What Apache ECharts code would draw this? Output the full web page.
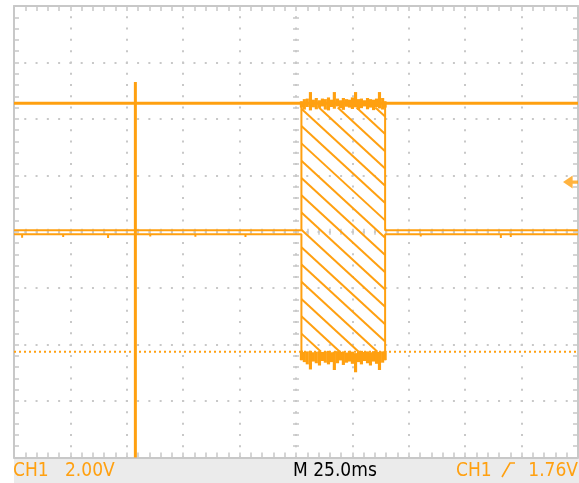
<!DOCTYPE html>
<html>
<head>
<meta charset="utf-8">
<script src="https://cdn.jsdelivr.net/npm/echarts@6/dist/echarts.min.js"></script>
<style>
  html, body { margin: 0; padding: 0; background: #ffffff; }
  #scope { width: 579px; height: 483px; }
</style>
</head>
<body>
<div id="scope"></div>
<script>
// ---- acquisition settings ----
const timeDivMs = 25.0;       // horizontal scale (ms / div)
const voltDiv = 2.00;         // CH1 vertical scale (V / div)
const triggerLevelV = 1.76;   // CH1 rising-edge trigger level
const hDivs = 10;
const vDivs = 8;

// ---- cursors and reference level ----
const cursorTimeMs = -71.2;   // vertical time cursor
const cursorTopV = 5.31;      // upper end of the time cursor
const cursorLevelV = 4.55;    // horizontal voltage cursor
const refLevelV = -4.25;      // dotted reference level

// ---- CH1 trace: idle level (min/max envelope) ----
const baseUpperV = 0.05;
const baseLowerV = -0.09;
// short negative glitches on the idle level [time ms, V]
const baselineDips = [[-121.4, -0.21], [-103.2, -0.19], [-83.3, -0.22], [-64.6, -0.17],
                      [-44.6, -0.18], [-22.4, -0.19], [55.3, -0.17], [90.8, -0.22], [95.2, -0.19]];

// ---- CH1 trace: burst window ----
const pulseTimes = [2.4, 3.7, 5.0, 6.4, 7.7, 9.0, 10.4, 11.7, 13.0, 14.4, 15.7, 17.0, 18.4, 19.7,
                    21.0, 22.4, 23.7, 25.0, 26.4, 27.7, 29.0, 30.4, 31.7, 33.0, 34.4, 35.7, 37.0, 38.4, 39.5];
const highMax = [4.62, 4.70, 4.72, 4.95, 4.68, 4.74, 4.66, 4.72, 4.70, 4.76, 4.68, 4.95, 4.72, 4.66,
                 4.74, 4.70, 4.68, 4.76, 4.95, 4.70, 4.72, 4.66, 4.74, 4.70, 4.68, 4.72, 4.95, 4.74, 4.62];
const highMin = [4.40, 4.33, 4.42, 4.30, 4.41, 4.34, 4.39, 4.44, 4.33, 4.30, 4.42, 4.36, 4.44, 4.38,
                 4.32, 4.43, 4.40, 4.35, 4.41, 4.32, 4.38, 4.44, 4.34, 4.40, 4.31, 4.42, 4.37, 4.33, 4.40];
const lowMax = [-4.22, -4.26, -4.24, -4.22, -4.27, -4.25, -4.23, -4.26, -4.24, -4.22, -4.27, -4.25, -4.23, -4.26,
                -4.24, -4.28, -4.22, -4.25, -4.30, -4.24, -4.22, -4.26, -4.24, -4.27, -4.23, -4.25, -4.26, -4.24, -4.22];
const lowMin = [-4.55, -4.62, -4.70, -4.88, -4.60, -4.66, -4.74, -4.58, -4.64, -4.70, -4.62, -4.90, -4.66, -4.56,
                -4.72, -4.64, -4.60, -4.68, -4.98, -4.62, -4.70, -4.58, -4.66, -4.74, -4.60, -4.68, -4.90, -4.64, -4.55];
// fast-edge region drawn as hatching [start ms, end ms, top V, bottom V]
const hatchBounds = [2.4, 39.5, 4.40, -4.25];

// ---- styles ----
const ORANGE = '#ffa010';
const GRID_GRAY = '#c8c8c8';
const FONT = '19px "DejaVu Sans Condensed", "DejaVu Sans", sans-serif';
const bandColumnMs = 1.4;

const xMin = -hDivs / 2 * timeDivMs, xMax = hDivs / 2 * timeDivMs;
const yMin = -vDivs / 2 * voltDiv, yMax = vDivs / 2 * voltDiv;

const gridRect = { left: 14, top: 6, width: 564, height: 451.5 };

function scaleAxis(base, opts) {
  return Object.assign({
    type: 'value', min: base.min, max: base.max, interval: base.interval,
    axisLine: { show: true, onZero: false, lineStyle: { color: GRID_GRAY, width: 2 } },
    axisTick: { show: true, inside: true, length: 5, lineStyle: { color: GRID_GRAY, width: 1.5 } },
    minorTick: { show: true, splitNumber: 5, length: 5, lineStyle: { color: GRID_GRAY, width: 1.5 } },
    axisLabel: { show: false },
    splitLine: { show: false },
    silent: true
  }, opts);
}
function centerAxis(base, opts) {
  return scaleAxis(base, Object.assign({
    axisLine: { show: false, onZero: false },
    axisTick: { show: true, inside: true, length: 3, lineStyle: { color: GRID_GRAY, width: 1.5 } },
    minorTick: { show: true, splitNumber: 5, length: 3, lineStyle: { color: GRID_GRAY, width: 1.5 } }
  }, opts));
}

const xBase = { min: xMin, max: xMax, interval: timeDivMs };
const yBase = { min: yMin, max: yMax, interval: voltDiv };
const dotPeriodX = gridRect.width / (hDivs * 5);
const dotPeriodY = gridRect.height / (vDivs * 5);

function pulseStartOf() { return pulseTimes[0]; }
function pulseEndOf() { return pulseTimes[pulseTimes.length - 1]; }
const last = pulseTimes.length - 1;

// idle level plus the rising / falling edges; the burst plateaus are drawn as bands
const upperTrace = [[xMin, baseUpperV], [pulseStartOf(), baseUpperV], [pulseStartOf(), highMax[0]],
                    [pulseStartOf(), '-'],
                    [pulseEndOf(), highMax[last]], [pulseEndOf(), baseUpperV], [xMax, baseUpperV]];

const lowerTrace = [[xMin, baseLowerV]];
baselineDips.filter(d => d[0] < pulseStartOf()).forEach(d => lowerTrace.push([d[0], baseLowerV], [d[0], d[1]], [d[0], baseLowerV]));
lowerTrace.push([pulseStartOf(), baseLowerV], [pulseStartOf(), lowMin[0]], [pulseStartOf(), '-'],
                [pulseEndOf(), lowMin[last]], [pulseEndOf(), baseLowerV]);
baselineDips.filter(d => d[0] > pulseEndOf()).forEach(d => lowerTrace.push([d[0], baseLowerV], [d[0], d[1]], [d[0], baseLowerV]));
lowerTrace.push([xMax, baseLowerV]);

const highBand = pulseTimes.map((t, i) => [t, highMin[i], highMax[i]]);
const lowBand = pulseTimes.map((t, i) => [t, lowMin[i], lowMax[i]]);

function renderBand(params, api) {
  const a = api.coord([api.value(0), api.value(2)]);
  const b = api.coord([api.value(0), api.value(1)]);
  const w = api.size([bandColumnMs, 0])[0];
  return { type: 'rect', shape: { x: a[0] - w / 2, y: a[1], width: w, height: b[1] - a[1] },
           style: { fill: ORANGE } };
}

function renderHatch(params, api) {
  const p0 = api.coord([api.value(0), api.value(2)]);
  const p1 = api.coord([api.value(1), api.value(3)]);
  const xL = p0[0], yT = p0[1], xR = p1[0], yB = p1[1];
  const slope = 0.92, step = 18.8, phase = 17.5;
  const h = yB - yT;
  const children = [];
  const first = xL + phase - Math.ceil((h / slope + phase) / step) * step;
  for (let c = first; c <= xR; c += step) {
    const xa = Math.max(c, xL), xb = Math.min(c + h / slope, xR);
    if (xb <= xa) continue;
    children.push({ type: 'line',
      shape: { x1: xa, y1: yT + slope * (xa - c), x2: xb, y2: yT + slope * (xb - c) },
      style: { stroke: ORANGE, lineWidth: 2 } });
  }
  return { type: 'group', children };
}

const chart = echarts.init(document.getElementById('scope'), null, { renderer: 'canvas' });

chart.setOption({
  animation: false,
  backgroundColor: '#ffffff',
  grid: Object.assign({ containLabel: false }, gridRect),
  xAxis: [
    scaleAxis(xBase, { position: 'bottom',
      splitLine: { show: true, lineStyle: { color: GRID_GRAY, width: 2, type: [2, dotPeriodY - 2], dashOffset: 1 } } }),
    scaleAxis(xBase, { position: 'top' }),
    centerAxis(xBase, { position: 'bottom', offset: -gridRect.height / 2 }),
    centerAxis(xBase, { position: 'top', offset: -gridRect.height / 2 })
  ],
  yAxis: [
    scaleAxis(yBase, { position: 'left',
      splitLine: { show: true, lineStyle: { color: GRID_GRAY, width: 2, type: [2, dotPeriodX - 2], dashOffset: 1 } } }),
    scaleAxis(yBase, { position: 'right' }),
    centerAxis(yBase, { position: 'left', offset: -gridRect.width / 2 }),
    centerAxis(yBase, { position: 'right', offset: -gridRect.width / 2 })
  ],
  series: [
    { type: 'custom', name: 'edges', renderItem: renderHatch, data: [hatchBounds], z: 3, silent: true },
    { type: 'custom', name: 'high', renderItem: renderBand, data: highBand, z: 4, silent: true },
    { type: 'custom', name: 'low', renderItem: renderBand, data: lowBand, z: 4, silent: true },
    { type: 'line', name: 'CH1 max', data: upperTrace, symbol: 'none', z: 5, silent: true, connectNulls: false,
      lineStyle: { color: ORANGE, width: 2 } },
    { type: 'line', name: 'CH1 min', data: lowerTrace, symbol: 'none', z: 5, silent: true, connectNulls: false,
      lineStyle: { color: ORANGE, width: 2 } },
    { type: 'line', name: 'reference', data: [[xMin, refLevelV], [xMax, refLevelV]], symbol: 'none', z: 5,
      silent: true, lineStyle: { color: ORANGE, width: 2, type: [2, 3] } },
    { type: 'line', name: 'cursor level', data: [[xMin, cursorLevelV], [xMax, cursorLevelV]], symbol: 'none',
      z: 6, silent: true, lineStyle: { color: ORANGE, width: 3 } },
    { type: 'line', name: 'cursor time', data: [[cursorTimeMs, yMin], [cursorTimeMs, cursorTopV]], symbol: 'none',
      z: 6, silent: true, lineStyle: { color: ORANGE, width: 3 } },
    { type: 'scatter', name: 'trigger', data: [[xMax, triggerLevelV]], z: 7, silent: true,
      symbol: 'path://M0,6 L9,0 L9,4.5 L14,4.5 L14,7.5 L9,7.5 L9,12 Z', symbolSize: [15, 13], symbolOffset: [-7.5, 0],
      itemStyle: { color: ORANGE } }
  ],
  graphic: [
    { type: 'rect', left: 14, top: 459, shape: { width: 565, height: 24 }, style: { fill: '#ebebeb' }, silent: true },
    { type: 'text', x: 13, y: 471, style: { text: 'CH1', font: FONT, fill: ORANGE, verticalAlign: 'middle' } },
    { type: 'text', x: 65, y: 471, style: { text: voltDiv.toFixed(2) + 'V', font: FONT, fill: ORANGE, verticalAlign: 'middle' } },
    { type: 'text', x: 293, y: 471, style: { text: 'M ' + timeDivMs.toFixed(1) + 'ms', font: FONT, fill: '#000000', verticalAlign: 'middle' } },
    { type: 'text', x: 456, y: 471, style: { text: 'CH1', font: FONT, fill: ORANGE, verticalAlign: 'middle' } },
    { type: 'polyline', shape: { points: [[502, 477], [510, 463], [515, 463]] }, style: { stroke: ORANGE, lineWidth: 1.6, fill: null } },
    { type: 'text', x: 578, y: 471, style: { text: triggerLevelV.toFixed(2) + 'V', font: FONT, fill: ORANGE, align: 'right', verticalAlign: 'middle' } }
  ]
});
</script>
</body>
</html>
